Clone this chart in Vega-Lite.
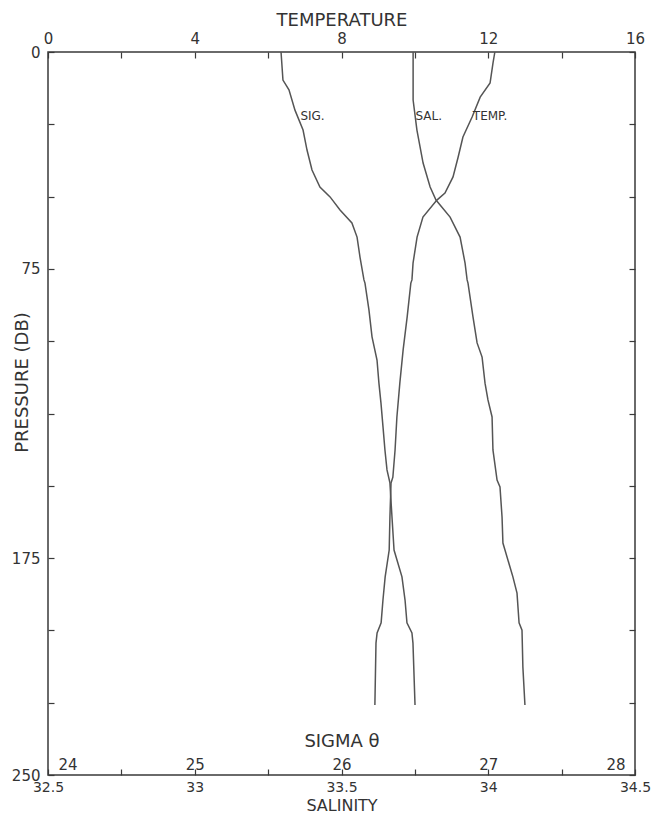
{
  "$schema": "https://vega.github.io/schema/vega-lite/v6.json",
  "width": 587,
  "height": 723,
  "autosize": {"type": "none"},
  "padding": {"left": 48, "top": 52, "right": 32, "bottom": 39},
  "config": {
    "font": "DejaVu Sans",
    "view": {"stroke": "#3a3a3a", "strokeWidth": 1.5},
    "axis": {
      "domain": false, "grid": false,
      "tickColor": "#3a3a3a", "tickWidth": 1.2, "tickSize": -6,
      "labelColor": "#333", "labelFontSize": 15, "labelFont": "DejaVu Sans",
      "titleFont": "DejaVu Sans", "titleFontSize": 18, "titleFontWeight": "normal", "titleColor": "#333",
      "labelFlush": false, "labelOverlap": false
    },
    "line": {"color": "#555", "strokeWidth": 1.5},
    "text": {"color": "#333", "fontSize": 12, "align": "left", "baseline": "middle", "font": "DejaVu Sans"}
  },
  "datasets": {
    "temperature": [
      {"pressure": 0, "value": 12.18}, {"pressure": 3.8, "value": 12.13}, {"pressure": 10.7, "value": 12.05},
      {"pressure": 15.6, "value": 11.78}, {"pressure": 22.5, "value": 11.56}, {"pressure": 29.4, "value": 11.31},
      {"pressure": 36.3, "value": 11.18}, {"pressure": 43.2, "value": 11.04}, {"pressure": 48.8, "value": 10.82},
      {"pressure": 51.2, "value": 10.6}, {"pressure": 57.1, "value": 10.22}, {"pressure": 64.0, "value": 10.06},
      {"pressure": 73.0, "value": 9.95}, {"pressure": 78.8, "value": 9.92}, {"pressure": 79.9, "value": 9.89},
      {"pressure": 91.6, "value": 9.79}, {"pressure": 103.0, "value": 9.68}, {"pressure": 114.5, "value": 9.59},
      {"pressure": 126.2, "value": 9.51}, {"pressure": 137.6, "value": 9.46}, {"pressure": 147.0, "value": 9.4},
      {"pressure": 149.0, "value": 9.35}, {"pressure": 160.8, "value": 9.32}, {"pressure": 172.2, "value": 9.3},
      {"pressure": 181.5, "value": 9.19}, {"pressure": 189.5, "value": 9.13}, {"pressure": 197.4, "value": 9.08},
      {"pressure": 200.9, "value": 8.97}, {"pressure": 204.4, "value": 8.94}, {"pressure": 225.8, "value": 8.91}
    ],
    "salinity": [
      {"pressure": 0, "value": 33.744}, {"pressure": 16.6, "value": 33.744}, {"pressure": 27.0, "value": 33.757},
      {"pressure": 38.4, "value": 33.778}, {"pressure": 46.7, "value": 33.802}, {"pressure": 51.2, "value": 33.822},
      {"pressure": 57.1, "value": 33.87}, {"pressure": 64.0, "value": 33.904}, {"pressure": 73.0, "value": 33.921},
      {"pressure": 78.8, "value": 33.928}, {"pressure": 79.9, "value": 33.931}, {"pressure": 91.6, "value": 33.948},
      {"pressure": 100.6, "value": 33.962}, {"pressure": 105.5, "value": 33.979}, {"pressure": 114.5, "value": 33.989},
      {"pressure": 120.3, "value": 33.999}, {"pressure": 126.2, "value": 34.013}, {"pressure": 137.6, "value": 34.016},
      {"pressure": 148.0, "value": 34.03}, {"pressure": 150.4, "value": 34.04}, {"pressure": 160.8, "value": 34.047},
      {"pressure": 169.8, "value": 34.05}, {"pressure": 172.2, "value": 34.057}, {"pressure": 181.5, "value": 34.084},
      {"pressure": 187.1, "value": 34.098}, {"pressure": 197.4, "value": 34.105}, {"pressure": 199.9, "value": 34.115},
      {"pressure": 212.7, "value": 34.118}, {"pressure": 225.8, "value": 34.125}
    ],
    "sigma": [
      {"pressure": 0, "value": 25.588}, {"pressure": 9.7, "value": 25.601}, {"pressure": 13.1, "value": 25.642},
      {"pressure": 20.1, "value": 25.683}, {"pressure": 27.0, "value": 25.738}, {"pressure": 33.9, "value": 25.765},
      {"pressure": 40.8, "value": 25.799}, {"pressure": 46.7, "value": 25.853}, {"pressure": 50.1, "value": 25.922},
      {"pressure": 54.6, "value": 25.99}, {"pressure": 59.1, "value": 26.071}, {"pressure": 64.0, "value": 26.106},
      {"pressure": 70.9, "value": 26.126}, {"pressure": 78.8, "value": 26.153}, {"pressure": 79.9, "value": 26.16},
      {"pressure": 89.2, "value": 26.187}, {"pressure": 98.5, "value": 26.208}, {"pressure": 106.5, "value": 26.242},
      {"pressure": 114.5, "value": 26.255}, {"pressure": 121.4, "value": 26.269}, {"pressure": 129.7, "value": 26.283},
      {"pressure": 137.6, "value": 26.296}, {"pressure": 144.5, "value": 26.31}, {"pressure": 149.0, "value": 26.33},
      {"pressure": 160.8, "value": 26.344}, {"pressure": 172.2, "value": 26.358}, {"pressure": 181.5, "value": 26.412},
      {"pressure": 189.5, "value": 26.433}, {"pressure": 197.4, "value": 26.446}, {"pressure": 200.9, "value": 26.48},
      {"pressure": 204.4, "value": 26.487}, {"pressure": 225.8, "value": 26.501}
    ]
  },
  "layer": [
    {
      "encoding": {
        "x": {
          "field": "value", "type": "quantitative",
          "scale": {"domain": [0, 16], "nice": false, "zero": false},
          "axis": {
            "orient": "top", "title": "TEMPERATURE",
            "values": [0, 2, 4, 6, 8, 10, 12, 14, 16],
            "labelExpr": "datum.value % 4 === 0 ? datum.label : ''",
            "labelPadding": 12, "titleY": -32, "titleBaseline": "middle"
          }
        },
        "y": {
          "field": "pressure", "type": "quantitative",
          "scale": {"domain": [0, 250], "reverse": true, "nice": false, "zero": false},
          "axis": {
            "orient": "left", "title": "PRESSURE (DB)",
            "values": [0, 25, 50, 75, 100, 125, 150, 175, 200, 225, 250],
            "labelExpr": "indexof([0, 75, 175, 250], datum.value) >= 0 ? datum.label : ''",
            "labelPadding": 14, "titleX": -26, "titleY": 330, "titleBaseline": "middle"
          }
        }
      },
      "layer": [
        {"data": {"name": "temperature"}, "mark": {"type": "line"}, "encoding": {"order": {"field": "pressure", "type": "quantitative"}}},
        {"data": {"values": [{"label": "TEMP.", "pressure": 22.1, "value": 11.58}]}, "mark": {"type": "text"}, "encoding": {"text": {"field": "label"}}}
      ]
    },
    {
      "encoding": {
        "x": {
          "field": "value", "type": "quantitative",
          "scale": {"domain": [32.5, 34.5], "nice": false, "zero": false},
          "axis": {
            "orient": "bottom", "title": "SALINITY",
            "values": [32.5, 32.75, 33, 33.25, 33.5, 33.75, 34, 34.25, 34.5],
            "labelExpr": "datum.value % 0.5 === 0 ? '' + datum.value : ''",
            "labelPadding": 11, "labelFontSize": 14,
            "titleFontSize": 16, "titleY": 38, "titleBaseline": "bottom"
          }
        },
        "y": {
          "field": "pressure", "type": "quantitative",
          "scale": {"domain": [0, 250], "reverse": true, "nice": false, "zero": false},
          "axis": {
            "orient": "right", "title": null, "labels": false,
            "values": [0, 25, 50, 75, 100, 125, 150, 175, 200, 225, 250]
          }
        }
      },
      "layer": [
        {"data": {"name": "salinity"}, "mark": {"type": "line"}, "encoding": {"order": {"field": "pressure", "type": "quantitative"}}},
        {"data": {"values": [{"label": "SAL.", "pressure": 22.1, "value": 33.752}]}, "mark": {"type": "text"}, "encoding": {"text": {"field": "label"}}}
      ]
    },
    {
      "encoding": {
        "x": {
          "field": "value", "type": "quantitative",
          "scale": {"domain": [24, 28], "nice": false, "zero": false},
          "axis": {
            "orient": "bottom", "title": "SIGMA θ", "offset": -20,
            "values": [24, 25, 26, 27, 28], "format": "d",
            "ticks": false, "labelPadding": 2,
            "labelFlush": true, "labelFlushOffset": -10,
            "titleY": -14, "titleBaseline": "middle"
          }
        },
        "y": {
          "field": "pressure", "type": "quantitative",
          "scale": {"domain": [0, 250], "reverse": true, "nice": false, "zero": false},
          "axis": null
        }
      },
      "layer": [
        {"data": {"name": "sigma"}, "mark": {"type": "line"}, "encoding": {"order": {"field": "pressure", "type": "quantitative"}}},
        {"data": {"values": [{"label": "SIG.", "pressure": 22.1, "value": 25.72}]}, "mark": {"type": "text"}, "encoding": {"text": {"field": "label"}}}
      ]
    }
  ],
  "resolve": {"scale": {"x": "independent"}, "axis": {"x": "independent", "y": "independent"}}
}
